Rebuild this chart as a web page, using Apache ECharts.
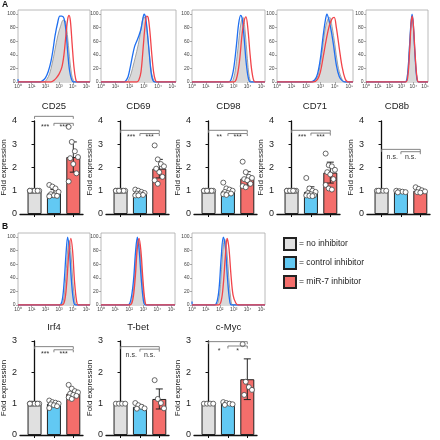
<!DOCTYPE html>
<html>
<head>
<meta charset="utf-8">
<script src="https://cdn.jsdelivr.net/npm/echarts@6/dist/echarts.min.js"></script>
<style>html,body{margin:0;padding:0;background:#fff}#main{width:440px;height:440px}</style>
</head>
<body>
<div id="main"></div>
<script>
// histograms: [log10 intensity, % of max]
var cd25None = [[0,0],[1.9,0],[2.1,4],[2.3,12],[2.5,28],[2.7,48],[2.9,68],[3.1,82],[3.3,91],[3.45,90],[3.6,70],[3.75,38],[3.9,12],[4.05,2],[4.2,0],[5.25,0]];
var cd25Ctrl = [[0,4],[0.06,0],[1.6,0],[1.8,2],[2.0,6],[2.2,15],[2.4,30],[2.55,47],[2.7,68],[2.9,88],[3.05,97],[3.2,97],[3.35,94],[3.5,75],[3.62,45],[3.75,18],[3.9,4],[4.05,0],[5.25,0]];
var cd25Mir7 = [[0,0],[2.4,0],[2.6,2],[2.8,6],[3.0,12],[3.2,22],[3.35,40],[3.5,70],[3.62,92],[3.72,98],[3.82,90],[3.95,55],[4.08,22],[4.2,5],[4.32,0],[5.25,0]];

var cd69None = [[0,0],[1.8,0],[1.95,4],[2.1,12],[2.3,28],[2.5,45],[2.7,65],[2.85,85],[3.0,96],[3.12,92],[3.25,70],[3.4,38],[3.55,12],[3.7,2],[3.8,0],[5.25,0]];
var cd69Ctrl = [[0,0],[1.6,0],[1.75,2],[1.9,8],[2.05,22],[2.2,38],[2.35,52],[2.5,60],[2.65,68],[2.8,78],[2.92,92],[3.02,100],[3.12,95],[3.25,72],[3.38,42],[3.5,15],[3.62,3],[3.75,0],[5.25,0]];
var cd69Mir7 = [[0,0],[2.5,0],[2.65,3],[2.8,15],[2.95,50],[3.08,82],[3.2,97],[3.3,95],[3.42,75],[3.55,42],[3.68,15],[3.8,3],[3.92,0],[5.25,0]];

var cd98None = [[0,0],[2.8,0],[3.0,6],[3.2,30],[3.4,68],[3.55,90],[3.68,95],[3.82,75],[3.98,35],[4.12,8],[4.3,0],[5.25,0]];
var cd98Ctrl = [[0,0],[2.6,0],[2.8,3],[3.0,20],[3.2,55],[3.35,85],[3.5,98],[3.62,92],[3.75,65],[3.9,28],[4.05,6],[4.2,0],[5.25,0]];
var cd98Mir7 = [[0,0],[3.0,0],[3.2,5],[3.4,28],[3.6,70],[3.75,90],[3.88,96],[4.02,78],[4.18,40],[4.35,10],[4.55,0],[5.25,0]];

var cd71None = [[0,0],[2.4,0],[2.7,4],[2.9,15],[3.1,42],[3.3,75],[3.5,92],[3.65,95],[3.8,82],[4.0,55],[4.2,25],[4.45,6],[4.7,0],[5.25,0]];
var cd71Ctrl = [[0,0],[2.3,0],[2.6,3],[2.8,12],[3.0,35],[3.2,70],[3.35,92],[3.45,100],[3.6,90],[3.75,75],[3.9,55],[4.1,25],[4.3,8],[4.5,2],[4.7,0],[5.25,0]];
var cd71Mir7 = [[0,0],[2.5,0],[2.8,4],[3.0,15],[3.2,38],[3.4,62],[3.6,82],[3.8,93],[3.95,95],[4.1,80],[4.3,50],[4.5,22],[4.7,5],[4.9,0],[5.25,0]];

var cd8bNone = [[0,0],[3.3,0],[3.5,10],[3.65,45],[3.8,85],[3.9,97],[4.0,85],[4.15,40],[4.3,8],[4.45,0],[5.25,0]];
var cd8bCtrl = [[0,0],[3.3,0],[3.5,8],[3.65,42],[3.8,85],[3.9,100],[4.0,86],[4.15,40],[4.3,6],[4.45,0],[5.25,0]];
var cd8bMir7 = [[0,0],[3.35,0],[3.55,10],[3.7,48],[3.83,88],[3.92,97],[4.02,82],[4.17,38],[4.32,6],[4.47,0],[5.25,0]];

var irf4None = [[0,0],[3.1,0],[3.3,6],[3.45,32],[3.6,75],[3.72,95],[3.85,80],[4.0,35],[4.15,6],[4.3,0],[5.25,0]];
var irf4Ctrl = [[0,0],[3.0,0],[3.2,5],[3.35,30],[3.5,75],[3.62,100],[3.75,80],[3.9,35],[4.05,6],[4.2,0],[5.25,0]];
var irf4Mir7 = [[0,0],[3.2,0],[3.4,6],[3.55,32],[3.7,75],[3.85,98],[3.98,80],[4.12,35],[4.27,6],[4.4,0],[5.25,0]];

var tbetNone = [[0,0],[2.0,0],[2.2,8],[2.38,40],[2.52,82],[2.65,97],[2.78,80],[2.92,38],[3.08,7],[3.2,0],[5.25,0]];
var tbetCtrl = [[0,0],[1.9,0],[2.1,6],[2.3,35],[2.45,78],[2.58,100],[2.7,82],[2.85,40],[3.0,8],[3.15,0],[5.25,0]];
var tbetMir7 = [[0,0],[2.05,0],[2.25,7],[2.42,38],[2.57,82],[2.7,98],[2.83,80],[2.98,36],[3.12,6],[3.25,0],[5.25,0]];

var cmycNone = [[0,0],[1.7,0],[1.9,6],[2.05,30],[2.2,75],[2.35,97],[2.5,82],[2.65,40],[2.8,8],[2.95,0],[5.25,0]];
var cmycCtrl = [[0,5],[0.06,0],[1.6,0],[1.8,5],[1.95,25],[2.1,70],[2.25,100],[2.4,85],[2.55,40],[2.7,8],[2.85,0],[5.25,0]];
var cmycMir7 = [[0,0],[1.9,0],[2.1,6],[2.25,30],[2.4,72],[2.52,98],[2.65,85],[2.8,45],[2.95,15],[3.15,3],[3.35,0],[5.25,0]];

var decadeLabels = ['10⁰', '10¹', '10²', '10³', '10⁴', '10⁵'];
var pctTicks = [0, 20, 40, 60, 80, 100];

// fold expression: [no inhibitor, control inhibitor, miR-7 inhibitor]
var groupNames = ['= no inhibitor', '= control inhibitor', '= miR-7 inhibitor'];

var cd25Mean = [1.0, 0.88, 2.45];
var cd25Sd = [0, 0.17, 0.65];
var cd25Pts = [[1,1,1,1,1,1,1,1], [1.25,1.18,1.1,0.95,0.85,0.8,0.78,0.76], [3.75,3.1,2.7,2.45,2.4,2.15,1.75,1.4]];
var cd25Sig = ['***', '***'];

var cd69Mean = [1.0, 0.9, 1.95];
var cd69Sd = [0, 0.09, 0.4];
var cd69Pts = [[1,1,1,1,1,1,1,1,1], [1.05,1.0,0.95,0.9,0.88,0.85,0.82,0.8,0.8], [2.95,2.35,2.15,2.05,1.95,1.8,1.6,1.45,1.3]];
var cd69Sig = ['***', '***'];

var cd98Mean = [1.0, 0.97, 1.52];
var cd98Sd = [0, 0.14, 0.3];
var cd98Pts = [[1,1,1,1,1,1,1,1,1], [1.35,1.1,1.05,1.0,0.95,0.9,0.88,0.85,0.82], [2.25,1.8,1.6,1.55,1.5,1.45,1.3,1.2,1.15]];
var cd98Sig = ['**', '***'];

var cd71Mean = [1.0, 0.95, 1.78];
var cd71Sd = [0, 0.22, 0.45];
var cd71Pts = [[1,1,1,1,1,1,1,1,1,1], [1.55,1.1,1.0,0.95,0.9,0.85,0.8,0.8,0.78,0.77], [2.6,2.1,2.05,1.9,1.8,1.7,1.5,1.25,1.1,1.05]];
var cd71Sig = ['***', '***'];

var cd8bMean = [1.0, 0.96, 1.0];
var cd8bSd = [0, 0.03, 0.08];
var cd8bPts = [[1,1,1,1,1], [1.0,0.98,0.96,0.94,0.93], [1.15,1.08,1.02,0.97,0.94,0.92]];
var cd8bSig = ['n.s.', 'n.s.'];

var irf4Mean = [1.0, 1.0, 1.32];
var irf4Sd = [0, 0.07, 0.12];
var irf4Pts = [[1,1,1,1,1,1,1,1], [1.1,1.05,1.03,1.0,0.98,0.95,0.92,0.86], [1.6,1.48,1.4,1.36,1.32,1.28,1.25,1.2,1.15]];
var irf4Sig = ['***', '***'];

var tbetMean = [1.0, 0.9, 1.15];
var tbetSd = [0, 0.06, 0.32];
var tbetPts = [[1,1,1,1], [1.02,0.95,0.9,0.85,0.84], [1.75,1.15,1.02,0.85]];
var tbetSig = ['n.s.', 'n.s.'];

var cmycMean = [1.0, 1.0, 1.78];
var cmycSd = [0, 0.04, 0.65];
var cmycPts = [[1,1,1,1], [1.05,1.02,1.0,0.98,0.96], [2.9,1.7,1.53,1.44,1.28]];
var cmycSig = ['*', '*'];

var FONT = 'Liberation Sans, Arial, sans-serif';
var barColors = ['#e0e0e0', '#62c9f3', '#f46e6b'];
var histLine = ['#8f8f8f', '#1f6ff0', '#f2444a'];

var histPanels = [
    {name: 'CD25', left: 18, top: 10, width: 72, gap: 19, curves: [cd25None, cd25Ctrl, cd25Mir7]},
    {name: 'CD69', left: 101, top: 10, width: 75, gap: 19, curves: [cd69None, cd69Ctrl, cd69Mir7]},
    {name: 'CD98', left: 192, top: 10, width: 73, gap: 19, curves: [cd98None, cd98Ctrl, cd98Mir7]},
    {name: 'CD71', left: 277, top: 10, width: 76, gap: 19, curves: [cd71None, cd71Ctrl, cd71Mir7]},
    {name: 'CD8b', left: 366, top: 10, width: 62, gap: 19, curves: [cd8bNone, cd8bCtrl, cd8bMir7]},
    {name: 'Irf4', left: 18, top: 233, width: 72, gap: 17, curves: [irf4None, irf4Ctrl, irf4Mir7]},
    {name: 'T-bet', left: 101, top: 233, width: 74, gap: 17, curves: [tbetNone, tbetCtrl, tbetMir7]},
    {name: 'c-Myc', left: 192, top: 233, width: 73, gap: 17, curves: [cmycNone, cmycCtrl, cmycMir7]}
];

// h = [outer bracket, inner bracket, label] heights in fold units
var barPanels = [
    {left: 20, top: 121, height: 93, max: 4, mean: cd25Mean, sd: cd25Sd, pts: cd25Pts, sig: cd25Sig, h: [4.2, 3.9, 3.72]},
    {left: 106, top: 121, height: 93, max: 4, mean: cd69Mean, sd: cd69Sd, pts: cd69Pts, sig: cd69Sig, h: [3.6, 3.46, 3.3]},
    {left: 194, top: 121, height: 93, max: 4, mean: cd98Mean, sd: cd98Sd, pts: cd98Pts, sig: cd98Sig, h: [3.6, 3.46, 3.3]},
    {left: 277, top: 121, height: 93, max: 4, mean: cd71Mean, sd: cd71Sd, pts: cd71Pts, sig: cd71Sig, h: [3.6, 3.48, 3.3]},
    {left: 367, top: 121, height: 93, max: 4, mean: cd8bMean, sd: cd8bSd, pts: cd8bPts, sig: cd8bSig, h: [2.78, 2.68, 2.45]},
    {left: 20, top: 341, height: 94, max: 3, mean: irf4Mean, sd: irf4Sd, pts: irf4Pts, sig: irf4Sig, h: [2.82, 2.72, 2.58]},
    {left: 106, top: 341, height: 94, max: 3, mean: tbetMean, sd: tbetSd, pts: tbetPts, sig: tbetSig, h: [2.82, 2.74, 2.55]},
    {left: 194, top: 341, height: 94, max: 3, mean: cmycMean, sd: cmycSd, pts: cmycPts, sig: cmycSig, h: [2.98, 2.84, 2.68]}
];

var grids = [], xAxes = [], yAxes = [], series = [];

function jitter(i) {
    var p = [-0.24, -0.08, 0.08, 0.24, -0.16, 0, 0.16];
    return p[i % p.length];
}

histPanels.forEach(function (p) {
    var gi = grids.length;
    grids.push({left: p.left, top: p.top, width: p.width, height: 72, show: true,
        borderColor: '#a8a8a8', borderWidth: 0.8, outerBoundsMode: 'none'});
    xAxes.push({
        gridIndex: gi, type: 'value', min: 0, max: 5.25,
        name: p.name, nameLocation: 'middle', nameGap: p.gap,
        nameTextStyle: {fontSize: 9.5, color: '#222', fontFamily: FONT},
        axisLine: {show: false},
        axisTick: {show: true, length: 2, customValues: [0, 1, 2, 3, 4, 5], lineStyle: {color: '#777', width: 0.6}},
        axisLabel: {customValues: [0, 1, 2, 3, 4, 5], fontSize: 5, color: '#444', margin: 2.5,
            formatter: function (v) { return decadeLabels[Math.round(v)]; }},
        splitLine: {show: false}
    });
    yAxes.push({
        gridIndex: gi, type: 'value', min: 0, max: 106,
        axisLine: {show: false},
        axisTick: {show: true, length: 2, customValues: pctTicks, lineStyle: {color: '#777', width: 0.6}},
        axisLabel: {customValues: pctTicks, fontSize: 5, color: '#444', margin: 2.5},
        splitLine: {show: false}
    });
    p.curves.forEach(function (c, k) {
        var s = {
            type: 'line', xAxisIndex: gi, yAxisIndex: gi, data: c,
            smooth: 0.35, symbol: 'none', z: 2 + k, silent: true,
            lineStyle: {color: histLine[k], width: k === 0 ? 0.8 : 1.3}
        };
        if (k === 0) s.areaStyle = {color: '#d9d9d9', opacity: 1};
        series.push(s);
    });
});

function renderErr(params, api) {
    var x = api.value(0), m = api.value(1), s = api.value(2);
    var hi = api.coord([x, m + s]), lo = api.coord([x, m - s]);
    var w = 3.5, st = {stroke: '#222', lineWidth: 1};
    return {type: 'group', children: [
        {type: 'line', shape: {x1: hi[0], y1: hi[1], x2: lo[0], y2: lo[1]}, style: st},
        {type: 'line', shape: {x1: hi[0] - w, y1: hi[1], x2: hi[0] + w, y2: hi[1]}, style: st},
        {type: 'line', shape: {x1: lo[0] - w, y1: lo[1], x2: lo[0] + w, y2: lo[1]}, style: st}
    ]};
}

barPanels.forEach(function (p) {
    var gi = grids.length;
    grids.push({left: p.left, top: p.top, width: 63, height: p.height, outerBoundsMode: 'none'});
    xAxes.push({
        gridIndex: gi, type: 'value', min: -0.75, max: 2.5,
        axisLine: {show: true, lineStyle: {color: '#111', width: 1.3}},
        axisTick: {show: true, length: 3, customValues: [0, 1, 2], lineStyle: {color: '#111', width: 1}},
        axisLabel: {show: false, customValues: [0, 1, 2]},
        splitLine: {show: false}
    });
    yAxes.push({
        gridIndex: gi, type: 'value', min: 0, max: p.max, interval: 1,
        name: 'Fold expression', nameLocation: 'middle', nameGap: 10,
        nameTextStyle: {fontSize: 8, color: '#222', fontFamily: FONT},
        axisLine: {show: true, lineStyle: {color: '#111', width: 1.3}},
        axisTick: {show: true, length: 3, lineStyle: {color: '#111', width: 1}},
        axisLabel: {fontSize: 9, color: '#222', margin: 3},
        splitLine: {show: false}
    });
    var errData = [];
    p.mean.forEach(function (m, k) {
        series.push({
            type: 'bar', name: groupNames[k], xAxisIndex: gi, yAxisIndex: gi,
            data: [[k, m]], barWidth: 14, barGap: '-100%', z: 2, silent: true,
            itemStyle: {color: barColors[k], borderColor: '#222', borderWidth: 1}
        });
        if (p.sd[k] > 0) errData.push([k, m, p.sd[k]]);
    });
    series.push({type: 'custom', xAxisIndex: gi, yAxisIndex: gi, z: 3, silent: true,
        renderItem: renderErr, data: errData});
    var dots = [];
    p.pts.forEach(function (arr, k) {
        arr.forEach(function (v, i) { dots.push([k + jitter(i), v]); });
    });
    series.push({type: 'scatter', xAxisIndex: gi, yAxisIndex: gi, z: 4, silent: true,
        data: dots, symbol: 'circle', symbolSize: 5,
        itemStyle: {color: '#fff', borderColor: '#444', borderWidth: 0.8, opacity: 1}});
    var labels = p.sig;
    series.push({
        type: 'custom', xAxisIndex: gi, yAxisIndex: gi, z: 5, clip: false, silent: true,
        data: [[0, 2, p.h[0], 0.55, p.h[2]], [1, 2, p.h[1], 1.5, p.h[2]]],
        renderItem: function (params, api) {
            var a = api.coord([api.value(0), api.value(2)]);
            var b = api.coord([api.value(1), api.value(2)]);
            var t = api.coord([api.value(3), api.value(4)]);
            return {type: 'group', children: [
                {type: 'polyline', shape: {points: [[a[0], a[1] + 2.5], [a[0], a[1]], [b[0], b[1]], [b[0], b[1] + 2.5]]},
                    style: {stroke: '#777', lineWidth: 0.9, fill: 'none'}},
                {type: 'text', style: {x: t[0], y: t[1], text: labels[params.dataIndex], fontSize: 7,
                    fill: '#333', align: 'center', verticalAlign: 'middle', fontFamily: FONT}}
            ]};
        }
    });
});

var chart = echarts.init(document.getElementById('main'), null, {renderer: 'canvas'});
chart.setOption({
    animation: false,
    backgroundColor: '#fff',
    textStyle: {fontFamily: FONT},
    title: [
        {text: 'A', left: 2, top: 0, padding: 0, textStyle: {fontSize: 8.5, fontWeight: 'bold', color: '#111', fontFamily: FONT}},
        {text: 'B', left: 2, top: 222, padding: 0, textStyle: {fontSize: 8.5, fontWeight: 'bold', color: '#111', fontFamily: FONT}}
    ],
    legend: {
        orient: 'vertical', left: 283, top: 237, padding: 0,
        itemWidth: 12, itemHeight: 12, itemGap: 5, icon: 'rect', selectedMode: false,
        data: groupNames,
        textStyle: {fontSize: 8.5, color: '#222', fontFamily: FONT, padding: [0, 0, 0, -2]}
    },
    grid: grids,
    xAxis: xAxes,
    yAxis: yAxes,
    series: series
});
</script>
</body>
</html>
